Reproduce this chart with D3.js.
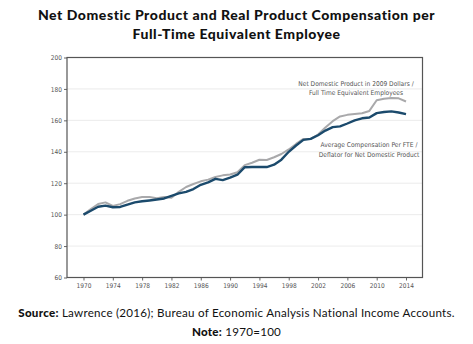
<!DOCTYPE html>
<html>
<head>
<meta charset="utf-8">
<script src="https://cdn.jsdelivr.net/npm/d3@7"></script>
<style>
  html, body { margin: 0; padding: 0; background: #fff; }
  svg { display: block; }
</style>
</head>
<body>
<svg id="chart" width="473" height="344"></svg>
<script>
// Index values, 1970 = 100
const years = d3.range(1970, 2015);
const ndpPerFte = [
  100, 103.5, 106.8, 107.8, 105.5, 106.7, 108.8, 110.3, 111.2, 111.2,
  110.4, 111.2, 110.8, 114.5, 117.6, 119.5, 121.2, 122.3, 124.0, 125.0,
  125.5, 127.0, 131.5, 133.0, 134.9, 134.8, 136.5, 138.6, 141.5, 145.0,
  148.2, 148.3, 151.0, 155.5, 159.5, 162.5, 163.5, 164.0, 164.5, 166.0,
  172.8, 173.8, 174.3, 174.0, 172.0
];
const compPerFte = [
  100, 102.5, 105.0, 105.7, 104.7, 104.9, 106.4, 107.8, 108.5, 109.0,
  109.6, 110.3, 112.0, 113.5, 114.5, 116.3, 119.0, 120.5, 122.8, 122.0,
  123.5, 125.4, 130.2, 130.3, 130.3, 130.3, 131.8, 135.0, 140.0, 144.0,
  147.6, 148.2, 150.5, 153.5, 155.7, 156.2, 158.0, 160.0, 161.3, 161.8,
  164.6, 165.3, 165.7, 165.0, 164.0
];
const xTicks = d3.range(1970, 2015, 4);
const yTicks = [60, 80, 100, 120, 140, 160, 180, 200];
const titleLines = [
  "Net Domestic Product and Real Product Compensation per",
  "Full-Time Equivalent Employee"
];
const ndpLabel = ["Net Domestic Product in 2009 Dollars /", "Full Time Equivalent Employees"];
const compLabel = ["Average Compensation Per FTE /", "Deflator for Net Domestic Product"];

const svg = d3.select("#chart");
const plot = { left: 67, right: 422.5, top: 57.5, bottom: 277.5 };

const x = d3.scaleLinear().domain([1967.75, 2016.25]).range([plot.left, plot.right]);
const y = d3.scaleLinear().domain([60, 200]).range([plot.bottom, plot.top]);

// Title
svg.append("g").selectAll("text").data(titleLines).join("text")
  .attr("x", 236.5).attr("y", (d, i) => 20 + i * 18.5)
  .attr("text-anchor", "middle")
  .attr("font-family", "Lato, sans-serif").attr("font-weight", 900)
  .attr("font-size", 14).attr("letter-spacing", 0.55).attr("fill", "#111")
  .text(d => d);

// Horizontal gridlines
svg.append("g").selectAll("line").data(yTicks.filter(v => v > 60 && v < 200)).join("line")
  .attr("x1", plot.left).attr("x2", plot.right)
  .attr("y1", d => y(d)).attr("y2", d => y(d))
  .attr("stroke", "#e6e6e6").attr("stroke-width", 0.8);

// Axes
const axisFont = g => g.selectAll("text")
  .attr("font-family", "'Liberation Sans Narrow', 'DejaVu Sans Condensed', sans-serif")
  .attr("font-size", 6.5).attr("fill", "#555");

const yAxis = svg.append("g").attr("transform", `translate(${plot.left},0)`)
  .call(d3.axisLeft(y).tickValues(yTicks).tickSize(3).tickPadding(2));
yAxis.call(axisFont);
yAxis.select(".domain").remove();
yAxis.selectAll(".tick line").attr("stroke", "#666");

const xAxis = svg.append("g").attr("transform", `translate(0,${plot.bottom})`)
  .call(d3.axisBottom(x).tickValues(xTicks).tickFormat(d3.format("d")).tickSize(3).tickPadding(3));
xAxis.call(axisFont);
xAxis.select(".domain").remove();
xAxis.selectAll(".tick line").attr("stroke", "#666");

// Plot frame
svg.append("rect")
  .attr("x", plot.left).attr("y", plot.top)
  .attr("width", plot.right - plot.left).attr("height", plot.bottom - plot.top)
  .attr("fill", "none").attr("stroke", "#555").attr("stroke-width", 1.2);

// Series lines
const line = vals => d3.line().x((d, i) => x(years[i])).y(d => y(d))(vals);
svg.append("path").attr("d", line(ndpPerFte))
  .attr("fill", "none").attr("stroke", "#a9a9ab").attr("stroke-width", 2)
  .attr("stroke-linejoin", "round");
svg.append("path").attr("d", line(compPerFte))
  .attr("fill", "none").attr("stroke", "#1b4a6c").attr("stroke-width", 2.4)
  .attr("stroke-linejoin", "round");

// Series annotations
const annot = (lines, cx, y0, dy) => svg.append("g").selectAll("text").data(lines).join("text")
  .attr("x", cx).attr("y", (d, i) => y0 + i * dy)
  .attr("text-anchor", "middle")
  .attr("font-family", "'Liberation Sans Narrow', 'DejaVu Sans Condensed', sans-serif")
  .attr("font-size", 6.6).attr("fill", "#555")
  .text(d => d);
annot(ndpLabel, 356, 86.3, 9);
annot(compLabel, 369, 146.5, 10.5);

// Footer notes
const footer = svg.append("g").attr("font-family", "Lato, sans-serif").attr("font-size", 11.6)
  .attr("letter-spacing", 0.25).attr("fill", "#111");
const src = footer.append("text").attr("x", 236.5).attr("y", 316.5).attr("text-anchor", "middle");
src.append("tspan").attr("font-weight", 900).text("Source:");
src.append("tspan").text(" Lawrence (2016); Bureau of Economic Analysis National Income Accounts.");
const note = footer.append("text").attr("x", 236.5).attr("y", 335.5).attr("text-anchor", "middle");
note.append("tspan").attr("font-weight", 900).text("Note:");
note.append("tspan").text(" 1970=100");
</script>
</body>
</html>
